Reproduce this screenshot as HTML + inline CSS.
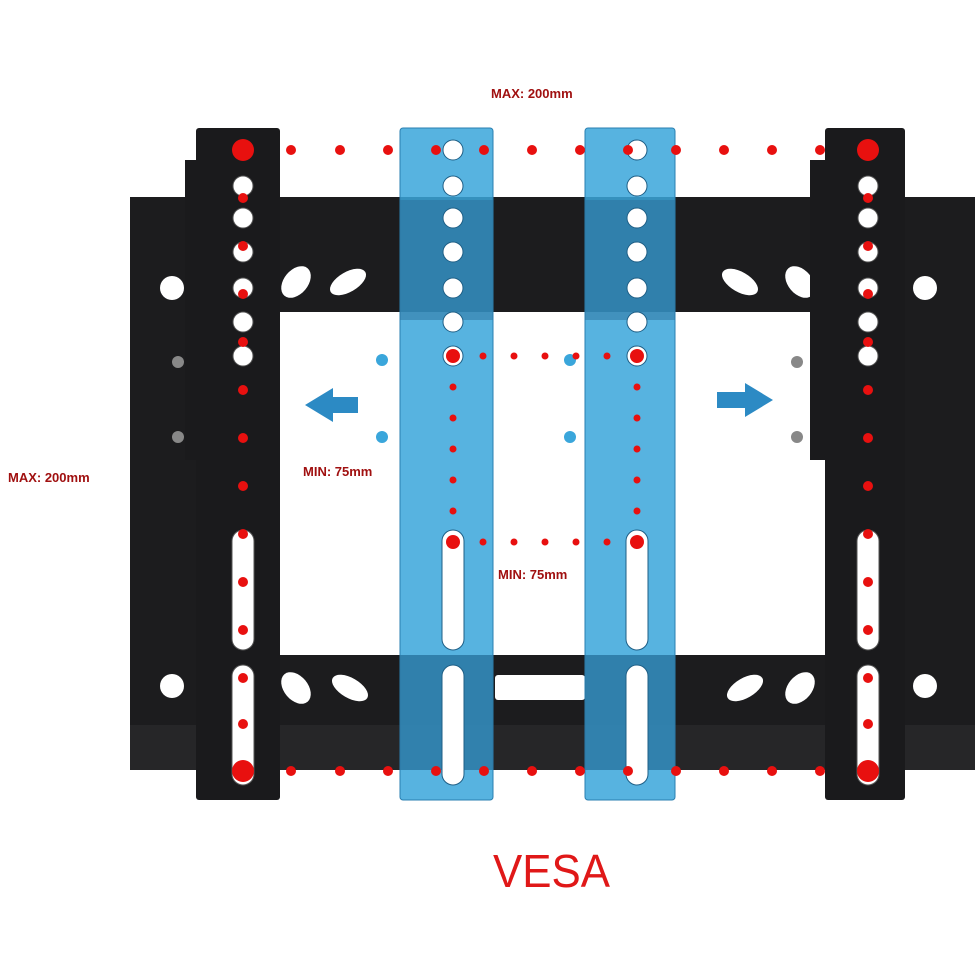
<!DOCTYPE html>
<html><head><meta charset="utf-8"><style>
html,body{margin:0;padding:0;background:#fff;}
svg{display:block;}
text{font-family:"Liberation Sans",sans-serif;}
</style></head><body>
<svg width="977" height="977" viewBox="0 0 977 977" xmlns="http://www.w3.org/2000/svg">
<rect width="977" height="977" fill="#fff"/>
<g fill="#1c1c1e">
<rect x="130" y="197" width="845" height="115" rx="4"/>
<rect x="130" y="655" width="845" height="115" rx="4"/>
<rect x="130" y="197" width="72" height="573"/>
<rect x="903" y="197" width="72" height="573"/>
</g>
<rect x="130" y="725" width="845" height="45" fill="#262628"/>
<g fill="#fff">
<circle cx="172" cy="288" r="12"/><circle cx="172" cy="686" r="12"/>
<circle cx="925" cy="288" r="12"/><circle cx="925" cy="686" r="12"/>
<ellipse cx="296" cy="282" rx="12" ry="18" transform="rotate(40 296 282)"/>
<ellipse cx="348" cy="282" rx="10" ry="20" transform="rotate(60 348 282)"/>
<ellipse cx="740" cy="282" rx="10" ry="20" transform="rotate(-60 740 282)"/>
<ellipse cx="800" cy="282" rx="12" ry="18" transform="rotate(-40 800 282)"/>
<ellipse cx="296" cy="688" rx="12" ry="18" transform="rotate(-40 296 688)"/>
<ellipse cx="350" cy="688" rx="10" ry="20" transform="rotate(-60 350 688)"/>
<ellipse cx="745" cy="688" rx="10" ry="20" transform="rotate(60 745 688)"/>
<ellipse cx="800" cy="688" rx="12" ry="18" transform="rotate(40 800 688)"/>
<rect x="495" y="675" width="90" height="25" rx="3"/>
</g>
<g fill="#1a1a1c">
<rect x="196" y="128" width="84" height="672" rx="3"/>
<rect x="825" y="128" width="80" height="672" rx="3"/>
<rect x="185" y="160" width="15" height="300"/>
<rect x="810" y="160" width="18" height="300"/>
</g>
<g fill="#fff" stroke="#555" stroke-width="1">
<circle cx="243" cy="186" r="10"/><circle cx="243" cy="218" r="10"/><circle cx="243" cy="252" r="10"/>
<circle cx="243" cy="288" r="10"/><circle cx="243" cy="322" r="10"/><circle cx="243" cy="356" r="10"/>
<rect x="232" y="530" width="22" height="120" rx="11"/><rect x="232" y="665" width="22" height="120" rx="11"/>
<circle cx="868" cy="186" r="10"/><circle cx="868" cy="218" r="10"/><circle cx="868" cy="252" r="10"/>
<circle cx="868" cy="288" r="10"/><circle cx="868" cy="322" r="10"/><circle cx="868" cy="356" r="10"/>
<rect x="857" y="530" width="22" height="120" rx="11"/><rect x="857" y="665" width="22" height="120" rx="11"/>
</g>
<g fill="#3aa6db" fill-opacity="0.85" stroke="#2a7fb0">
<rect x="400" y="128" width="93" height="672" rx="3"/>
<rect x="585" y="128" width="90" height="672" rx="3"/>
</g>
<g fill="#2b6f99" fill-opacity="0.5">
<rect x="400" y="200" width="93" height="120"/><rect x="585" y="200" width="90" height="120"/>
<rect x="400" y="655" width="93" height="115"/><rect x="585" y="655" width="90" height="115"/>
</g>
<g fill="#fff" stroke="#1f5f86">
<circle cx="453" cy="150" r="10"/><circle cx="453" cy="186" r="10"/><circle cx="453" cy="218" r="10"/>
<circle cx="453" cy="252" r="10"/><circle cx="453" cy="288" r="10"/><circle cx="453" cy="322" r="10"/><circle cx="453" cy="356" r="10"/>
<rect x="442" y="530" width="22" height="120" rx="11"/><rect x="442" y="665" width="22" height="120" rx="11"/>
<circle cx="637" cy="150" r="10"/><circle cx="637" cy="186" r="10"/><circle cx="637" cy="218" r="10"/>
<circle cx="637" cy="252" r="10"/><circle cx="637" cy="288" r="10"/><circle cx="637" cy="322" r="10"/><circle cx="637" cy="356" r="10"/>
<rect x="626" y="530" width="22" height="120" rx="11"/><rect x="626" y="665" width="22" height="120" rx="11"/>
</g>
<g fill="#3aa6db"><circle cx="382" cy="360" r="6"/><circle cx="382" cy="437" r="6"/><circle cx="570" cy="360" r="6"/><circle cx="570" cy="437" r="6"/></g>
<g fill="#888"><circle cx="178" cy="362" r="6"/><circle cx="178" cy="437" r="6"/><circle cx="797" cy="362" r="6"/><circle cx="797" cy="437" r="6"/></g>
<polygon points="305,405 333,388 333,397 358,397 358,413 333,413 333,422" fill="#2c8ac4"/>
<polygon points="773,400 745,383 745,392 717,392 717,408 745,408 745,417" fill="#2c8ac4"/>
<g fill="#e8100f">
<circle cx="291" cy="150" r="5"/><circle cx="340" cy="150" r="5"/><circle cx="388" cy="150" r="5"/><circle cx="436" cy="150" r="5"/><circle cx="484" cy="150" r="5"/><circle cx="532" cy="150" r="5"/><circle cx="580" cy="150" r="5"/><circle cx="628" cy="150" r="5"/><circle cx="676" cy="150" r="5"/><circle cx="724" cy="150" r="5"/><circle cx="772" cy="150" r="5"/><circle cx="820" cy="150" r="5"/>
<circle cx="291" cy="771" r="5"/><circle cx="340" cy="771" r="5"/><circle cx="388" cy="771" r="5"/><circle cx="436" cy="771" r="5"/><circle cx="484" cy="771" r="5"/><circle cx="532" cy="771" r="5"/><circle cx="580" cy="771" r="5"/><circle cx="628" cy="771" r="5"/><circle cx="676" cy="771" r="5"/><circle cx="724" cy="771" r="5"/><circle cx="772" cy="771" r="5"/><circle cx="820" cy="771" r="5"/>
<circle cx="243" cy="198" r="5"/><circle cx="243" cy="246" r="5"/><circle cx="243" cy="294" r="5"/><circle cx="243" cy="342" r="5"/><circle cx="243" cy="390" r="5"/><circle cx="243" cy="438" r="5"/><circle cx="243" cy="486" r="5"/><circle cx="243" cy="534" r="5"/><circle cx="243" cy="582" r="5"/><circle cx="243" cy="630" r="5"/><circle cx="243" cy="678" r="5"/><circle cx="243" cy="724" r="5"/>
<circle cx="868" cy="198" r="5"/><circle cx="868" cy="246" r="5"/><circle cx="868" cy="294" r="5"/><circle cx="868" cy="342" r="5"/><circle cx="868" cy="390" r="5"/><circle cx="868" cy="438" r="5"/><circle cx="868" cy="486" r="5"/><circle cx="868" cy="534" r="5"/><circle cx="868" cy="582" r="5"/><circle cx="868" cy="630" r="5"/><circle cx="868" cy="678" r="5"/><circle cx="868" cy="724" r="5"/>
<circle cx="483" cy="356" r="3.5"/><circle cx="514" cy="356" r="3.5"/><circle cx="545" cy="356" r="3.5"/><circle cx="576" cy="356" r="3.5"/><circle cx="607" cy="356" r="3.5"/>
<circle cx="483" cy="542" r="3.5"/><circle cx="514" cy="542" r="3.5"/><circle cx="545" cy="542" r="3.5"/><circle cx="576" cy="542" r="3.5"/><circle cx="607" cy="542" r="3.5"/>
<circle cx="453" cy="387" r="3.5"/><circle cx="453" cy="418" r="3.5"/><circle cx="453" cy="449" r="3.5"/><circle cx="453" cy="480" r="3.5"/><circle cx="453" cy="511" r="3.5"/>
<circle cx="637" cy="387" r="3.5"/><circle cx="637" cy="418" r="3.5"/><circle cx="637" cy="449" r="3.5"/><circle cx="637" cy="480" r="3.5"/><circle cx="637" cy="511" r="3.5"/>
<circle cx="453" cy="356" r="7"/><circle cx="637" cy="356" r="7"/><circle cx="453" cy="542" r="7"/><circle cx="637" cy="542" r="7"/>
<circle cx="243" cy="150" r="11"/><circle cx="868" cy="150" r="11"/><circle cx="243" cy="771" r="11"/><circle cx="868" cy="771" r="11"/>
</g>
<g fill="#a01010" font-weight="bold" font-size="13">
<text x="491" y="98">MAX: 200mm</text>
<text x="8" y="482">MAX: 200mm</text>
<text x="303" y="476">MIN: 75mm</text>
<text x="498" y="579">MIN: 75mm</text>
</g>
<text x="493" y="887" font-size="46" fill="#e01818" textLength="117" lengthAdjust="spacingAndGlyphs">VESA</text>
</svg>
</body></html>
